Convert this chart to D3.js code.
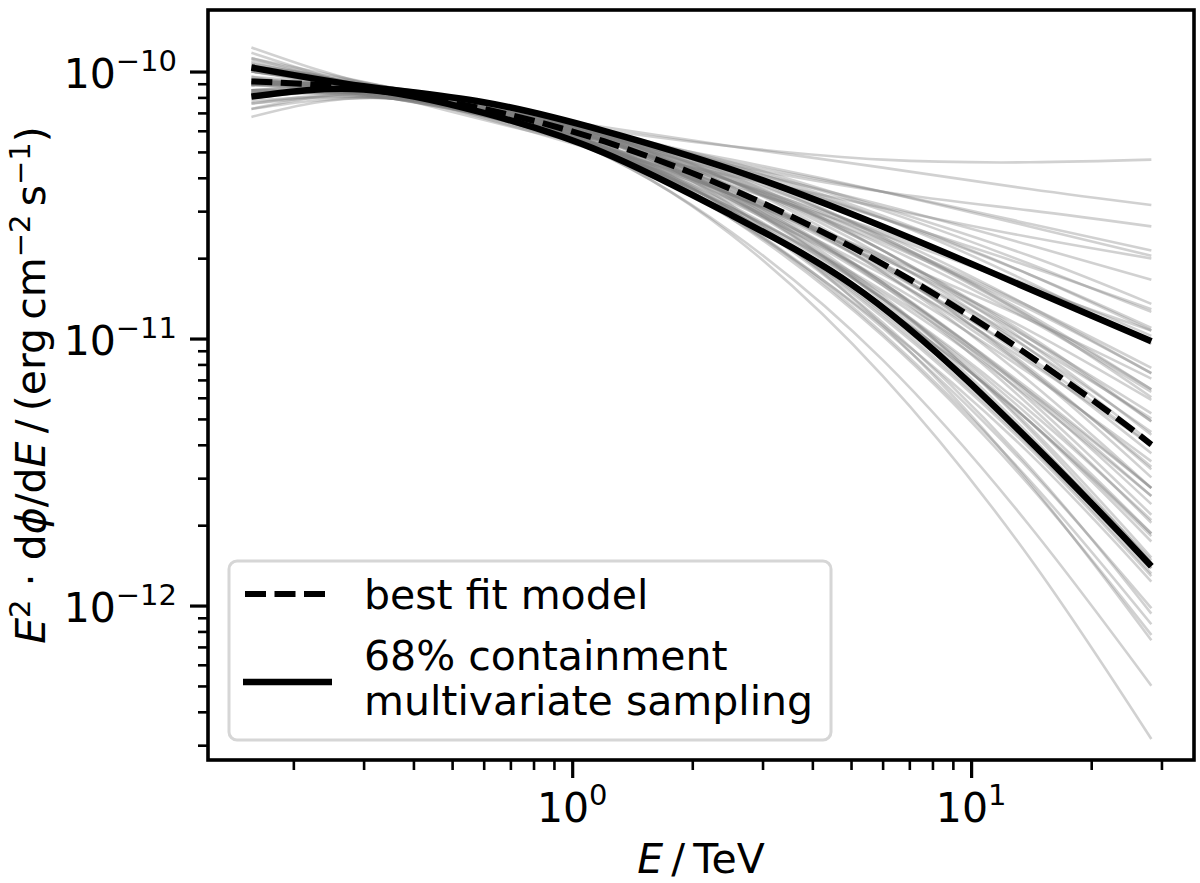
<!DOCTYPE html>
<html>
<head>
<meta charset="utf-8">
<script src="https://cdn.jsdelivr.net/npm/d3@7"></script>
<style>
  body { margin: 0; background: #fff; }
  svg { display: block; font-family: "DejaVu Sans", sans-serif; }
</style>
</head>
<body>
<div id="chart"></div>
<script>
const sampleEnergy = [0.157, 0.35, 1, 2.5, 6, 14, 28.3];

// log10 of E^2 dphi/dE (erg cm^-2 s^-1) for the grey multivariate samples
const sampleLogFlux = [
  [-9.91, -10.07, -10.20, -10.28, -10.33, -10.34, -10.33],
  [-9.93, -10.09, -10.26, -10.39, -10.51, -10.62, -10.70],
  [-9.99, -10.08, -10.19, -10.28, -10.36, -10.44, -10.50],
  [-9.95, -10.06, -10.21, -10.36, -10.50, -10.65, -10.78],
  [-10.02, -10.10, -10.22, -10.33, -10.45, -10.58, -10.69],
  [-9.96, -10.08, -10.26, -10.43, -10.61, -10.81, -10.97],
  [-10.00, -10.09, -10.23, -10.38, -10.55, -10.73, -10.89],
  [-10.00, -10.07, -10.20, -10.34, -10.51, -10.69, -10.87],
  [-9.97, -10.08, -10.27, -10.46, -10.69, -10.93, -11.15],
  [-10.04, -10.10, -10.22, -10.37, -10.55, -10.76, -10.96],
  [-9.98, -10.07, -10.23, -10.41, -10.63, -10.88, -11.11],
  [-10.04, -10.09, -10.20, -10.35, -10.54, -10.76, -10.97],
  [-9.99, -10.08, -10.25, -10.46, -10.70, -10.97, -11.23],
  [-9.99, -10.06, -10.21, -10.39, -10.61, -10.88, -11.13],
  [-10.07, -10.10, -10.20, -10.36, -10.55, -10.79, -11.02],
  [-10.00, -10.08, -10.24, -10.45, -10.70, -11.00, -11.28],
  [-10.04, -10.09, -10.23, -10.41, -10.65, -10.93, -11.20],
  [-9.99, -10.07, -10.25, -10.48, -10.76, -11.09, -11.40],
  [-10.04, -10.08, -10.20, -10.38, -10.62, -10.91, -11.19],
  [-10.05, -10.10, -10.25, -10.46, -10.72, -11.04, -11.35],
  [-10.04, -10.07, -10.19, -10.37, -10.62, -10.92, -11.22],
  [-10.03, -10.09, -10.26, -10.49, -10.78, -11.13, -11.46],
  [-10.04, -10.08, -10.21, -10.41, -10.67, -11.00, -11.31],
  [-9.98, -10.06, -10.25, -10.51, -10.82, -11.20, -11.56],
  [-10.08, -10.10, -10.21, -10.40, -10.67, -10.99, -11.31],
  [-10.05, -10.08, -10.22, -10.44, -10.73, -11.08, -11.43],
  [-10.03, -10.09, -10.26, -10.51, -10.83, -11.22, -11.59],
  [-10.05, -10.07, -10.20, -10.41, -10.69, -11.04, -11.39],
  [-10.04, -10.08, -10.24, -10.48, -10.80, -11.19, -11.56],
  [-10.11, -10.10, -10.20, -10.39, -10.67, -11.02, -11.36],
  [-10.04, -10.07, -10.22, -10.47, -10.79, -11.20, -11.59],
  [-10.08, -10.09, -10.21, -10.43, -10.73, -11.11, -11.49],
  [-10.03, -10.08, -10.26, -10.53, -10.88, -11.31, -11.73],
  [-10.05, -10.06, -10.20, -10.43, -10.75, -11.16, -11.56],
  [-10.07, -10.10, -10.26, -10.53, -10.88, -11.31, -11.74],
  [-10.09, -10.08, -10.19, -10.41, -10.72, -11.12, -11.52],
  [-10.07, -10.09, -10.24, -10.50, -10.85, -11.29, -11.73],
  [-10.07, -10.07, -10.20, -10.45, -10.79, -11.23, -11.66],
  [-10.04, -10.08, -10.26, -10.55, -10.95, -11.43, -11.91],
  [-10.12, -10.10, -10.22, -10.46, -10.80, -11.25, -11.69],
  [-10.05, -10.07, -10.24, -10.52, -10.92, -11.41, -11.89],
  [-10.09, -10.09, -10.24, -10.51, -10.89, -11.38, -11.86],
  [-10.10, -10.08, -10.21, -10.47, -10.85, -11.33, -11.82],
  [-10.05, -10.06, -10.23, -10.54, -10.96, -11.49, -12.01],
  [-10.14, -10.10, -10.21, -10.47, -10.86, -11.36, -11.86],
  [-10.09, -10.08, -10.24, -10.54, -10.98, -11.53, -12.07],
  [-10.12, -10.09, -10.23, -10.52, -10.94, -11.48, -12.03],
  [-10.07, -10.07, -10.26, -10.60, -11.08, -11.70, -12.30],
  [-10.14, -10.08, -10.20, -10.50, -10.95, -11.54, -12.13],
  [-10.17, -10.10, -10.26, -10.61, -11.14, -11.82, -12.50],
  [-9.98, -10.08, -10.22, -10.34, -10.45, -10.57, -10.67],
  [-9.97, -10.07, -10.23, -10.41, -10.60, -10.80, -10.99],
  [-10.03, -10.09, -10.21, -10.35, -10.52, -10.72, -10.90],
  [-10.00, -10.08, -10.23, -10.42, -10.64, -10.89, -11.13],
  [-9.98, -10.07, -10.25, -10.46, -10.72, -11.02, -11.30],
  [-10.05, -10.09, -10.22, -10.40, -10.63, -10.92, -11.19],
  [-10.02, -10.08, -10.24, -10.46, -10.74, -11.07, -11.40],
  [-10.04, -10.07, -10.22, -10.44, -10.75, -11.12, -11.48],
  [-10.04, -10.08, -10.25, -10.51, -10.85, -11.27, -11.68],
  [-10.08, -10.09, -10.22, -10.46, -10.79, -11.21, -11.62],
  [-10.04, -10.07, -10.24, -10.52, -10.90, -11.37, -11.83],
  [-10.08, -10.08, -10.22, -10.48, -10.85, -11.31, -11.76],
  [-10.08, -10.09, -10.25, -10.52, -10.91, -11.40, -11.88],
  [-10.10, -10.07, -10.19, -10.46, -10.84, -11.34, -11.84],
  [-10.09, -10.08, -10.24, -10.55, -10.99, -11.55, -12.11],
  [-9.95, -10.08, -10.23, -10.35, -10.45, -10.52, -10.58]
];

// Best fit and 68% containment band (log10 of flux)
const fitEnergy = [0.157, 0.3, 0.6, 1.2, 2.5, 5, 10, 20, 28.3];
const bestFitLog = [-10.037, -10.065, -10.140, -10.261, -10.440, -10.656, -10.919, -11.227, -11.397];
const upper68Log = [-9.985, -10.055, -10.115, -10.222, -10.366, -10.533, -10.720, -10.914, -11.010];
const lower68Log = [-10.094, -10.067, -10.155, -10.304, -10.537, -10.796, -11.171, -11.616, -11.853];

// Axis limits and tick labels
const xLimits = [0.1222, 36.2];
const yLimits = [2.64e-13, 1.70e-10];
const xMajor = [1, 10];
const xMajorExp = ["0", "1"];
const yMajor = [1e-12, 1e-11, 1e-10];
const yMajorExp = ["\u221212", "\u221211", "\u221210"];
const legendLabels = [["best fit model"], ["68% containment", "multivariate sampling"]];

const W = 1200, H = 883;
const margin = {top: 10, right: 6, bottom: 123, left: 208},
      width = W - margin.left - margin.right,
      height = H - margin.top - margin.bottom;

const svg = d3.select("#chart").append("svg")
    .attr("width", W)
    .attr("height", H);

const g = svg.append("g")
    .attr("transform", `translate(${margin.left},${margin.top})`);

const x = d3.scaleLog().domain(xLimits).range([0, width]);
const y = d3.scaleLog().domain(yLimits).range([height, 0]);

const line = d3.line()
  .x(d => x(d[0]))
  .y(d => y(Math.pow(10, d[1])))
  .curve(d3.curveNatural);

// Grey samples
g.append("g")
  .selectAll("path")
  .data(sampleLogFlux)
  .join("path")
    .attr("d", row => line(sampleEnergy.map((e, i) => [e, row[i]])))
    .attr("fill", "none")
    .attr("stroke", "#808080")
    .attr("stroke-opacity", 0.36)
    .attr("stroke-width", 2.6);

// Containment band edges
[upper68Log, lower68Log].forEach(vals => {
  g.append("path")
    .attr("d", line(fitEnergy.map((e, i) => [e, vals[i]])))
    .attr("fill", "none")
    .attr("stroke", "#000")
    .attr("stroke-width", 6.5);
});

// Best fit
g.append("path")
  .attr("d", line(fitEnergy.map((e, i) => [e, bestFitLog[i]])))
  .attr("fill", "none")
  .attr("stroke", "#000")
  .attr("stroke-width", 6)
  .attr("stroke-dasharray", "21,8.5");

// Axes: major and minor ticks
const isMajor = v => Math.abs(Math.log10(v) - Math.round(Math.log10(v))) < 1e-9;
const xMinor = x.ticks().filter(v => !isMajor(v));
const yMinor = y.ticks().filter(v => !isMajor(v));

function styleAxis(sel, w) {
  sel.select(".domain").remove();
  sel.selectAll(".tick line").attr("stroke", "#000").attr("stroke-width", w);
}

g.append("g").attr("transform", `translate(0,${height})`)
  .call(d3.axisBottom(x).tickValues(xMajor).tickSize(18).tickFormat(""))
  .call(s => styleAxis(s, 3.2));
g.append("g").attr("transform", `translate(0,${height})`)
  .call(d3.axisBottom(x).tickValues(xMinor).tickSize(10).tickFormat(""))
  .call(s => styleAxis(s, 2.6));
g.append("g")
  .call(d3.axisLeft(y).tickValues(yMajor).tickSize(18).tickFormat(""))
  .call(s => styleAxis(s, 3.2));
g.append("g")
  .call(d3.axisLeft(y).tickValues(yMinor).tickSize(10).tickFormat(""))
  .call(s => styleAxis(s, 2.6));

// Tick labels with superscript exponents
const fs = 41, sup = 29, rise = 17;
xMajor.forEach((v, i) => {
  const t = g.append("text")
    .attr("x", x(v)).attr("y", height + 62)
    .attr("text-anchor", "middle")
    .attr("font-size", fs);
  t.append("tspan").text("10");
  t.append("tspan").attr("dy", -rise).attr("font-size", sup).text(xMajorExp[i]);
});
yMajor.forEach((v, i) => {
  const t = g.append("text")
    .attr("x", -31).attr("y", y(v) + 16)
    .attr("text-anchor", "end")
    .attr("font-size", fs);
  t.append("tspan").text("10");
  t.append("tspan").attr("dy", -rise).attr("font-size", sup).text(yMajorExp[i]);
});

// Frame
g.append("rect")
  .attr("width", width).attr("height", height)
  .attr("fill", "none").attr("stroke", "#000").attr("stroke-width", 3.6);

// Axis titles
const thin = "\u2009";
const xt = svg.append("text")
  .attr("x", margin.left + width / 2).attr("y", 873)
  .attr("text-anchor", "middle").attr("font-size", fs);
xt.append("tspan").attr("font-style", "italic").text("E");
xt.append("tspan").text(thin + "/" + thin + "TeV");

const yRise = 15;
const yt = svg.append("text")
  .attr("transform", `translate(45,${margin.top + height / 2}) rotate(-90)`)
  .attr("text-anchor", "middle").attr("font-size", fs);
yt.append("tspan").attr("font-style", "italic").text("E");
yt.append("tspan").attr("dy", -yRise).attr("font-size", sup).text("2");
yt.append("tspan").attr("dy", yRise).text(" \u00b7 d");
yt.append("tspan").attr("font-style", "italic").text("\u03d5");
yt.append("tspan").text("/d");
yt.append("tspan").attr("font-style", "italic").text("E");
yt.append("tspan").text(thin + "/" + thin + "(erg" + thin + "cm");
yt.append("tspan").attr("dy", -yRise).attr("font-size", sup).text("\u22122");
yt.append("tspan").attr("dy", yRise).text(thin + "s");
yt.append("tspan").attr("dy", -yRise).attr("font-size", sup).text("\u22121");
yt.append("tspan").attr("dy", yRise).text(")");

// Legend
const lg = svg.append("g");
lg.append("rect")
  .attr("x", 229).attr("y", 561).attr("width", 602).attr("height", 179)
  .attr("rx", 8).attr("fill", "#fff").attr("fill-opacity", 0.8)
  .attr("stroke", "#d6d6d6").attr("stroke-width", 3);
lg.append("line")
  .attr("x1", 245).attr("x2", 326).attr("y1", 594).attr("y2", 594)
  .attr("stroke", "#000").attr("stroke-width", 6).attr("stroke-dasharray", "21,8.5");
lg.append("line")
  .attr("x1", 243).attr("x2", 332).attr("y1", 682).attr("y2", 682)
  .attr("stroke", "#000").attr("stroke-width", 6.5);
lg.append("text").attr("x", 364).attr("y", 609).attr("font-size", fs).text(legendLabels[0][0]);
lg.append("text").attr("x", 364).attr("y", 670).attr("font-size", fs).text(legendLabels[1][0]);
lg.append("text").attr("x", 364).attr("y", 715).attr("font-size", fs).text(legendLabels[1][1]);
</script>
</body>
</html>
